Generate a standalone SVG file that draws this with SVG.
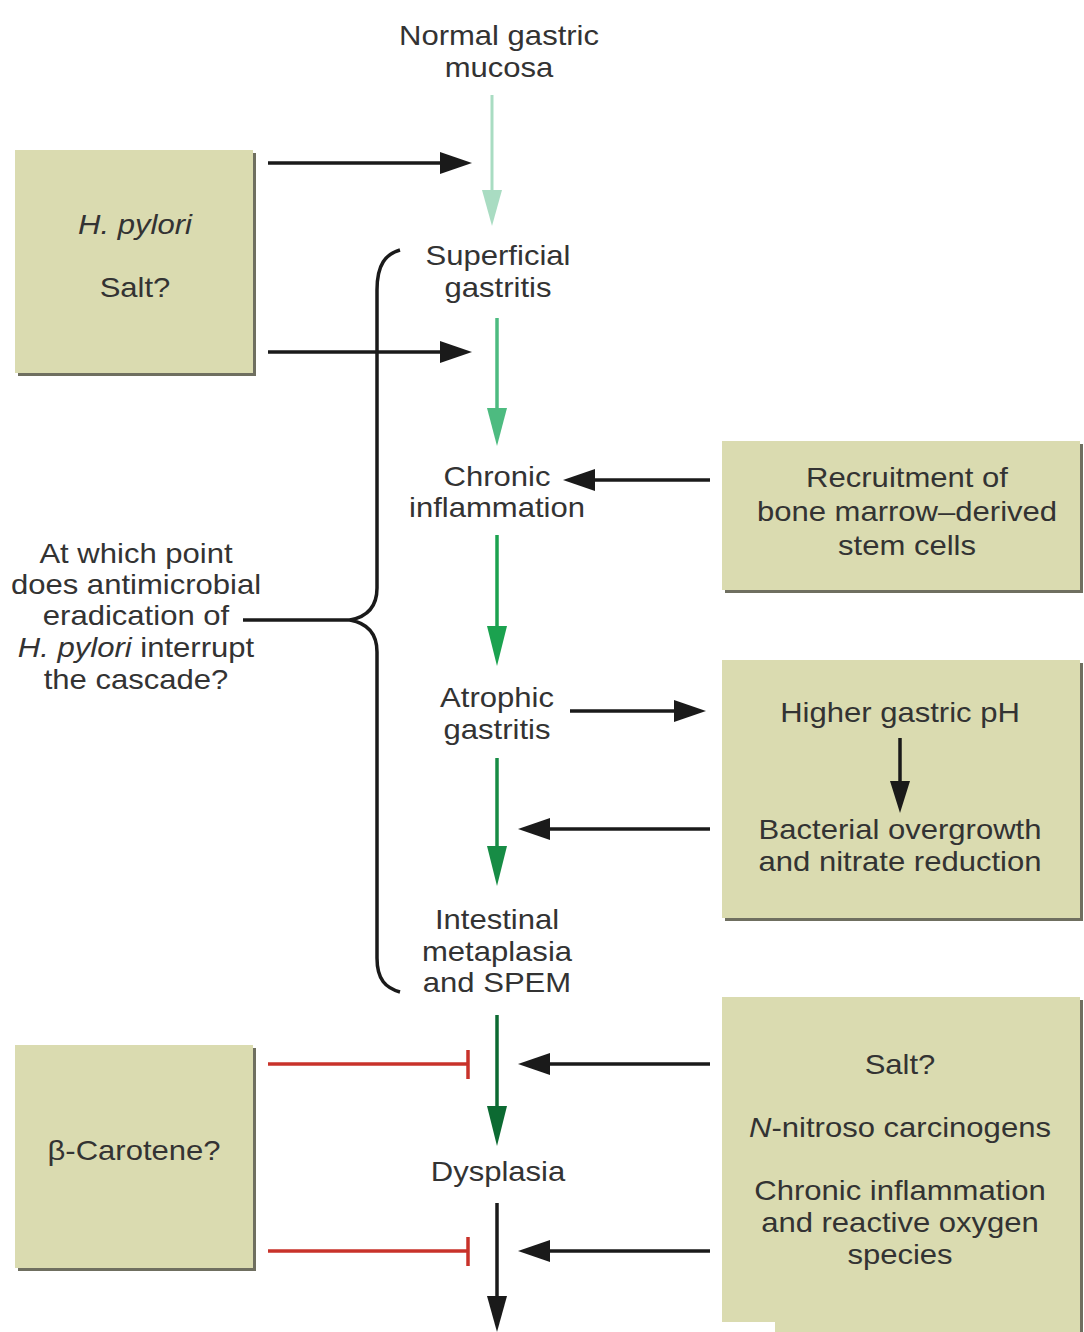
<svg xmlns="http://www.w3.org/2000/svg" width="1084" height="1332" viewBox="0 0 1084 1332">
<style>
text{font-family:"Liberation Sans",Arial,sans-serif;font-size:27px;fill:#333;text-anchor:middle}
.it{font-style:italic}
.box{fill:#dadbb0}
.sh{fill:#6f6f60}
.blk{stroke:#1a1a1a;stroke-width:3.5;fill:none}
.ah{fill:#1a1a1a}
.red{stroke:#c8322a;stroke-width:3.5;fill:none}
</style>
<rect width="1084" height="1332" fill="#fff"/>

<g id="connectors">
  <!-- main cascade arrows -->
  <line x1="492" y1="95" x2="492" y2="195" stroke="#a9dcc2" stroke-width="3"/>
  <polygon points="482,190 502,190 492,226" fill="#a9dcc2"/>
  <line x1="497" y1="318" x2="497" y2="412" stroke="#4dbb80" stroke-width="3.5"/>
  <polygon points="487,408 507,408 497,446" fill="#4dbb80"/>
  <line x1="497" y1="535" x2="497" y2="630" stroke="#1ba24f" stroke-width="3.5"/>
  <polygon points="487,626 507,626 497,666" fill="#1ba24f"/>
  <line x1="497" y1="758" x2="497" y2="850" stroke="#178c45" stroke-width="3.5"/>
  <polygon points="487,846 507,846 497,886" fill="#178c45"/>
  <line x1="497" y1="1015" x2="497" y2="1110" stroke="#0c6a32" stroke-width="3.5"/>
  <polygon points="487,1106 507,1106 497,1146" fill="#0c6a32"/>
  <line x1="497" y1="1203" x2="497" y2="1300" class="blk"/>
  <polygon points="487,1296 507,1296 497,1332" class="ah"/>

  <!-- H. pylori arrows -->
  <line x1="268" y1="163" x2="445" y2="163" class="blk"/>
  <polygon points="472,163 440,152 440,174" class="ah"/>
  <line x1="268" y1="352" x2="445" y2="352" class="blk"/>
  <polygon points="472,352 440,341 440,363" class="ah"/>

  <!-- recruitment arrow -->
  <line x1="710" y1="480" x2="590" y2="480" class="blk"/>
  <polygon points="563,480 595,469 595,491" class="ah"/>

  <!-- atrophic to pH -->
  <line x1="570" y1="711" x2="680" y2="711" class="blk"/>
  <polygon points="706,711 674,700 674,722" class="ah"/>

  <!-- bacterial back -->
  <line x1="710" y1="829" x2="545" y2="829" class="blk"/>
  <polygon points="518,829 550,818 550,840" class="ah"/>

  <!-- salt box arrows -->
  <line x1="710" y1="1064" x2="545" y2="1064" class="blk"/>
  <polygon points="518,1064 550,1053 550,1075" class="ah"/>
  <line x1="710" y1="1251" x2="545" y2="1251" class="blk"/>
  <polygon points="518,1251 550,1240 550,1262" class="ah"/>

  <!-- beta-carotene inhibitors -->
  <line x1="268" y1="1064" x2="468" y2="1064" class="red"/>
  <line x1="468" y1="1050" x2="468" y2="1079" class="red"/>
  <line x1="268" y1="1251" x2="468" y2="1251" class="red"/>
  <line x1="468" y1="1237" x2="468" y2="1266" class="red"/>

  <!-- brace -->
  <path d="M400,250 C386,254 377,264 377,290 L377,588 C377,608 366,617 350,620 C366,623 377,632 377,652 L377,958 C377,980 386,988 400,992" class="blk" stroke-width="4"/>
  <line x1="243" y1="620" x2="352" y2="620" class="blk"/>
</g>

<g id="normal"><text transform="matrix(1.15 0 0 1 499 0)"><tspan x="0" y="45">Normal gastric</tspan><tspan x="0" y="77">mucosa</tspan></text></g>
<g id="superficial"><text transform="matrix(1.15 0 0 1 498 0)"><tspan x="0" y="265">Superficial</tspan><tspan x="0" y="297">gastritis</tspan></text></g>
<g id="chronic"><text transform="matrix(1.15 0 0 1 497 0)"><tspan x="0" y="486">Chronic</tspan><tspan x="0" y="517">inflammation</tspan></text></g>
<g id="atrophic"><text transform="matrix(1.15 0 0 1 497 0)"><tspan x="0" y="707">Atrophic</tspan><tspan x="0" y="739">gastritis</tspan></text></g>
<g id="intestinal"><text transform="matrix(1.15 0 0 1 497 0)"><tspan x="0" y="929">Intestinal</tspan><tspan x="0" y="961">metaplasia</tspan><tspan x="0" y="992">and SPEM</tspan></text></g>
<g id="dysplasia"><text transform="matrix(1.15 0 0 1 498 0)" y="1181">Dysplasia</text></g>

<g id="question"><text transform="matrix(1.15 0 0 1 136 0)"><tspan x="0" y="563">At which point</tspan><tspan x="0" y="594">does antimicrobial</tspan><tspan x="0" y="625">eradication of</tspan><tspan x="0" y="657"><tspan class="it">H. pylori</tspan> interrupt</tspan><tspan x="0" y="689">the cascade?</tspan></text></g>

<g id="hpylori">
  <rect x="18" y="153" width="238" height="223" class="sh"/>
  <rect x="15" y="150" width="238" height="223" class="box"/>
  <text transform="matrix(1.15 0 0 1 135 0)"><tspan x="0" y="234" class="it">H. pylori</tspan><tspan x="0" y="297">Salt?</tspan></text>
</g>

<g id="carotene">
  <rect x="18" y="1048" width="238" height="223" class="sh"/>
  <rect x="15" y="1045" width="238" height="223" class="box"/>
  <text transform="matrix(1.15 0 0 1 134 0)" y="1160">β-Carotene?</text>
</g>

<g id="recruitment">
  <rect x="725" y="444" width="358" height="149" class="sh"/>
  <rect x="722" y="441" width="358" height="149" class="box"/>
  <text transform="matrix(1.15 0 0 1 907 0)"><tspan x="0" y="487">Recruitment of</tspan><tspan x="0" y="521">bone marrow–derived</tspan><tspan x="0" y="555">stem cells</tspan></text>
</g>

<g id="ph">
  <rect x="725" y="663" width="358" height="258" class="sh"/>
  <rect x="722" y="660" width="358" height="258" class="box"/>
  <text transform="matrix(1.15 0 0 1 900 0)"><tspan x="0" y="722">Higher gastric pH</tspan><tspan x="0" y="839">Bacterial overgrowth</tspan><tspan x="0" y="871">and nitrate reduction</tspan></text>
  <line x1="900" y1="738" x2="900" y2="785" class="blk" stroke-width="3"/>
  <polygon points="900,813 890,781 910,781" class="ah"/>
</g>

<g id="salt">
  <rect x="725" y="1000" width="358" height="332" class="sh"/>
  <rect x="722" y="997" width="358" height="335" class="box"/>
  <text transform="matrix(1.15 0 0 1 900 0)"><tspan x="0" y="1074">Salt?</tspan><tspan x="0" y="1137"><tspan class="it">N</tspan>-nitroso carcinogens</tspan><tspan x="0" y="1200">Chronic inflammation</tspan><tspan x="0" y="1232">and reactive oxygen</tspan><tspan x="0" y="1264">species</tspan></text>
  <rect x="700" y="1322" width="75" height="10" fill="#fff"/>
</g>
</svg>
